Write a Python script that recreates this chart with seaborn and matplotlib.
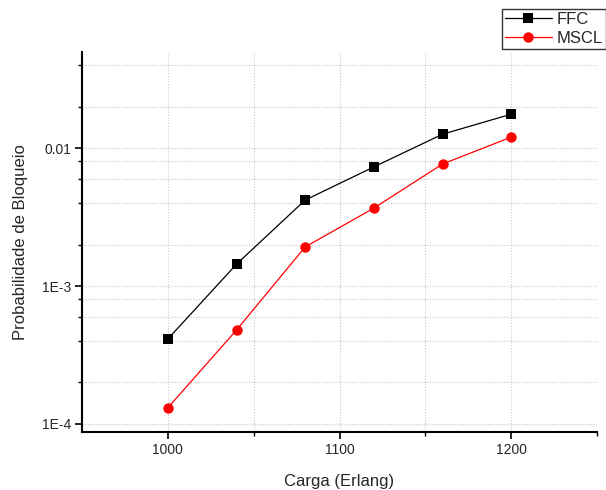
import matplotlib
matplotlib.use('Agg')
import matplotlib.pyplot as plt
import seaborn as sns
import pandas as pd
from matplotlib.ticker import FixedLocator, FixedFormatter, NullFormatter

carga = [1000, 1040, 1080, 1120, 1160, 1200]
ffc = [4.13e-4, 1.44e-3, 4.2e-3, 7.3e-3, 0.0126, 0.0176]
mscl = [1.31e-4, 4.8e-4, 1.92e-3, 3.67e-3, 7.66e-3, 0.0120]
series_names = ['FFC', 'MSCL']
series_colors = ['black', 'red']
series_markers = ['s', 'o']
ytick_vals = [1e-4, 1e-3, 1e-2]
ytick_labels = ['1E-4', '1E-3', '0.01']
xtick_vals = [1000, 1100, 1200]
xtick_labels = ['1000', '1100', '1200']

sns.set_style('white')
plt.rcParams['font.family'] = ['Liberation Sans', 'DejaVu Sans']

df = pd.DataFrame({
    'Carga': carga * 2,
    'P': ffc + mscl,
    'Serie': [series_names[0]] * len(carga) + [series_names[1]] * len(carga),
})

fig = plt.figure(figsize=(6.06, 4.9), dpi=100)
ax = fig.add_axes([82 / 606, 1 - 432 / 490, (597 - 82) / 606, (432 - 52) / 490])

msizes = {'FFC': 6.5, 'MSCL': 7.5}
for name, col, mk in zip(series_names, series_colors, series_markers):
    sub = df[df['Serie'] == name]
    sns.lineplot(data=sub, x='Carga', y='P', color=col, marker=mk,
                 markersize=msizes[name], markeredgewidth=0, linewidth=0.9,
                 ax=ax, label=name, legend=False)

ax.set_yscale('log')
ax.set_xlim(950, 1250)
ax.set_ylim(8.75e-5, 0.0497)

minor_y = [m * 10.0 ** e for e in (-4, -3, -2) for m in (2, 4, 6, 8)]
ax.yaxis.set_major_locator(FixedLocator(ytick_vals))
ax.yaxis.set_major_formatter(FixedFormatter(ytick_labels))
ax.yaxis.set_minor_locator(FixedLocator(minor_y))
ax.yaxis.set_minor_formatter(NullFormatter())
ax.xaxis.set_major_locator(FixedLocator(xtick_vals))
ax.xaxis.set_major_formatter(FixedFormatter(xtick_labels))
ax.xaxis.set_minor_locator(FixedLocator([1050, 1150, 1250]))

ax.grid(True, which='both', color='#c8c8c8', linestyle=(0, (1, 1.5)), linewidth=0.8)
ax.set_axisbelow(True)

for s in ['top', 'right']:
    ax.spines[s].set_visible(False)
for s in ['left', 'bottom']:
    ax.spines[s].set_color('black')
    ax.spines[s].set_linewidth(1.5)

ax.tick_params(which='major', direction='out', length=5, width=1.2, color='black',
               labelsize=10, left=True, bottom=True, pad=3)
ax.tick_params(which='minor', direction='out', length=3, width=1.0, color='black',
               left=True, bottom=True)

ax.set_xlabel('Carga (Erlang)', fontsize=12, labelpad=12)
ax.set_ylabel('Probabilidade de Bloqueio', fontsize=12, labelpad=10)

handles, labels = ax.get_legend_handles_labels()
leg = fig.legend(handles, labels, loc='upper right', bbox_to_anchor=(1.0, 1 - 9 / 490),
                 fontsize=12, frameon=True, fancybox=False, edgecolor='black',
                 handlelength=2.8, handletextpad=0.3, borderpad=0.2, labelspacing=0.2,
                 borderaxespad=0)
leg.get_frame().set_linewidth(1.0)

fig.savefig('out.png', dpi=100)
